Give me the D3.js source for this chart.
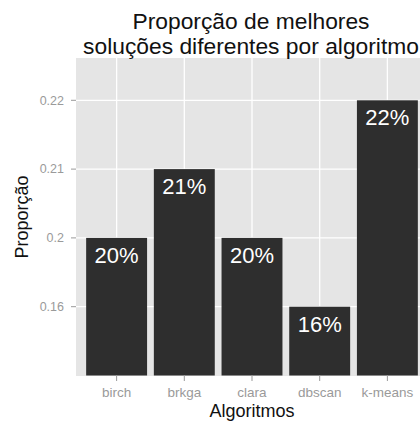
<!DOCTYPE html>
<html><head><meta charset="utf-8">
<script src="https://cdn.jsdelivr.net/npm/d3@7"></script>
<style>body{margin:0;background:#fff}svg{display:block}text{font-family:"Liberation Sans",Arial,sans-serif}</style>
</head><body><svg id="c" width="420" height="421"></svg>
<script>
const algorithms = ["birch","brkga","clara","dbscan","k-means"];
const proportions = [0.20,0.21,0.20,0.16,0.22];
const barLabels = ["20%","21%","20%","16%","22%"];
const yLevels = ["0.16","0.2","0.21","0.22"];
const titleLines = ["Proporção de melhores","soluções diferentes por algoritmo"];

const svg = d3.select("#c");
const panel = {left:76, right:428, top:58, bottom:376};

// ggplot-style discrete expansion: 0.6 band-units on each side
const step = (panel.right - panel.left) / (algorithms.length - 1 + 1.2);
const xc = d3.scalePoint().domain(algorithms)
  .range([panel.left + 0.6*step, panel.right - 0.6*step]);
const barW = 0.9*step;

const y = d3.scaleLinear().domain([0, 4.6]).range([375.5, 375.5 - 4.6*68.8]);
const levelPos = v => yLevels.indexOf(String(v)) + 1;

svg.append("defs").append("clipPath").attr("id","pc")
  .append("rect").attr("x",panel.left).attr("y",panel.top)
  .attr("width",panel.right-panel.left).attr("height",panel.bottom-panel.top);

const g = svg.append("g").attr("clip-path","url(#pc)");
g.append("rect").attr("x",panel.left).attr("y",panel.top)
  .attr("width",panel.right-panel.left).attr("height",panel.bottom-panel.top)
  .attr("fill","#e5e5e5");

// grid
g.selectAll(".hg").data(yLevels).join("line")
  .attr("x1",panel.left).attr("x2",panel.right)
  .attr("y1",(d,i)=>y(i+1)).attr("y2",(d,i)=>y(i+1))
  .attr("stroke","#fff").attr("stroke-width",1.3);
g.selectAll(".vg").data(algorithms).join("line")
  .attr("x1",d=>xc(d)).attr("x2",d=>xc(d))
  .attr("y1",panel.top).attr("y2",panel.bottom)
  .attr("stroke","#fff").attr("stroke-width",1.3);

// bars
g.selectAll(".bar").data(algorithms).join("rect")
  .attr("x",d=>xc(d)-barW/2).attr("width",barW)
  .attr("y",(d,i)=>y(levelPos(proportions[i])))
  .attr("height",(d,i)=>y(0)-y(levelPos(proportions[i])))
  .attr("fill","#2e2e2e");

// bar labels
g.selectAll(".bl").data(algorithms).join("text")
  .attr("x",d=>xc(d)).attr("y",(d,i)=>y(levelPos(proportions[i]))+25)
  .attr("text-anchor","middle").attr("fill","#fff").attr("font-size",22)
  .text((d,i)=>barLabels[i]);

// y axis
const yt = svg.append("g");
yLevels.forEach((lab,i)=>{
  yt.append("line").attr("x1",panel.left-5).attr("x2",panel.left)
    .attr("y1",y(i+1)).attr("y2",y(i+1)).attr("stroke","#999").attr("stroke-width",1);
  yt.append("text").attr("x",panel.left-12).attr("y",y(i+1)).attr("dy","0.35em")
    .attr("text-anchor","end").attr("font-size",12.5).attr("fill","#9a9a9a").text(lab);
});
// x axis
const xt = svg.append("g");
algorithms.forEach(a=>{
  xt.append("line").attr("x1",xc(a)).attr("x2",xc(a))
    .attr("y1",panel.bottom).attr("y2",panel.bottom+5).attr("stroke","#999");
  xt.append("text").attr("x",xc(a)).attr("y",397).attr("text-anchor","middle")
    .attr("font-size",13.5).attr("fill","#9a9a9a").text(a);
});

svg.append("text").attr("x",252).attr("y",416.5).attr("text-anchor","middle")
  .attr("font-size",18).attr("fill","#111").text("Algoritmos");
svg.append("text").attr("transform","translate(28,217) rotate(-90)")
  .attr("text-anchor","middle").attr("font-size",18).attr("fill","#111").text("Proporção");

svg.selectAll(".tt").data(titleLines).join("text")
  .attr("x",251).attr("y",(d,i)=>29+i*25).attr("text-anchor","middle")
  .attr("font-size",22.8).attr("fill","#111").text(d=>d);
</script></body></html>
